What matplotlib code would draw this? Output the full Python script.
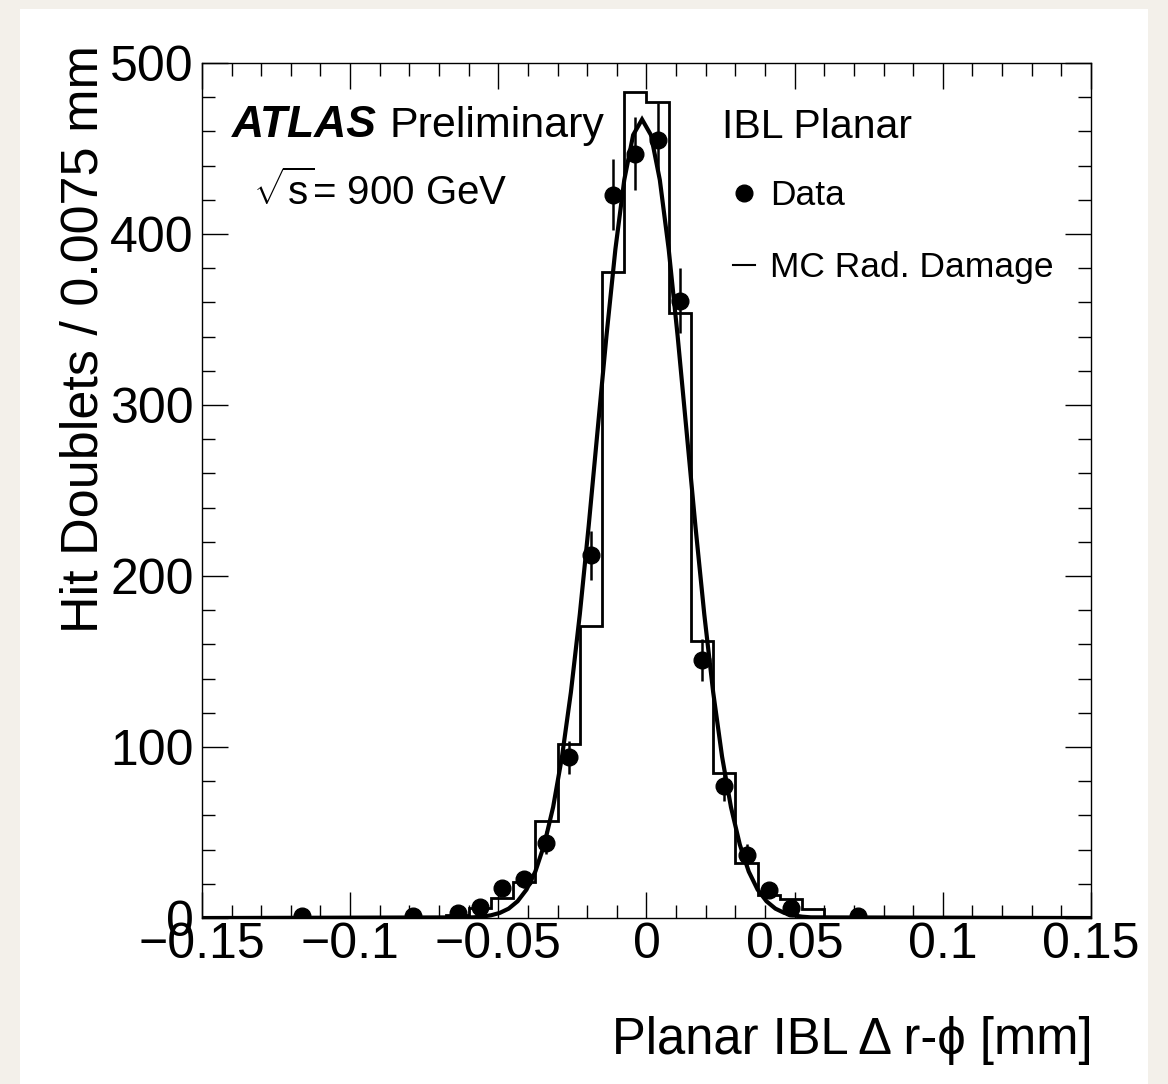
import numpy as np
import matplotlib
matplotlib.use('Agg')
import matplotlib.pyplot as plt
from matplotlib.lines import Line2D
from matplotlib.patches import Rectangle
from matplotlib.ticker import MultipleLocator, FuncFormatter

plt.rcParams['font.family'] = ['Liberation Sans', 'DejaVu Sans']
plt.rcParams['mathtext.fontset'] = 'custom'
plt.rcParams['mathtext.rm'] = 'Liberation Sans'

# data: hit doublets per 0.0075 mm bin (bin centres)
data_x = [-0.11625, -0.07875, -0.06375, -0.05625, -0.04875, -0.04125, -0.03375,
          -0.02625, -0.01875, -0.01125, -0.00375, 0.00375, 0.01125, 0.01875,
          0.02625, 0.03375, 0.04125, 0.04875, 0.07125]
data_y = [1, 1, 3, 6.6, 17.4, 22.6, 44, 94, 212, 423, 447, 455, 361, 151,
          77, 37, 16.4, 5.7, 1]

# MC rad. damage histogram
mc_lo, mc_hi = -0.0975, 0.0825
mc_counts = [0.5, 0.5, 0.5, 0.5, 1.7, 5.7, 11.5, 21, 57, 102, 171, 378,
             483, 477, 354, 162, 85, 32, 13.5, 11, 5.3, 0.5, 0.5, 0.5]

# fitted curve
fit_x = [-0.15, -0.0585, -0.0555, -0.0525, -0.0495, -0.0465, -0.0435, -0.0405,
         -0.0375, -0.0345, -0.0315, -0.0285, -0.0255, -0.0225, -0.0195, -0.0165,
         -0.0135, -0.0105, -0.0075, -0.0045, -0.0015, 0.0015, 0.0045, 0.0075,
         0.0105, 0.0135, 0.0165, 0.0195, 0.0225, 0.0255, 0.0285, 0.0315, 0.0345,
         0.0375, 0.0405, 0.0435, 0.0465, 0.0495, 0.0525, 0.0555, 0.15]
fit_y = [0, 0.4, 0.8, 1.6, 3.0, 5.5, 9.8, 16.6, 27.2, 42.9, 64.9, 94.4, 132.1,
         177.6, 229.4, 285.1, 340.5, 391.0, 431.6, 457.9, 467, 457.9, 431.6,
         391.0, 340.5, 285.1, 229.4, 177.6, 132.1, 94.4, 64.9, 42.9, 27.2, 16.6,
         9.8, 5.5, 3.0, 1.6, 0.8, 0.4, 0]

mc_edges = np.linspace(mc_lo, mc_hi, len(mc_counts) + 1)

fig = plt.figure(figsize=(11.68, 10.84), dpi=100, facecolor='#f3f0ea')
fig.patches.append(Rectangle((20 / 1168, 0), 1128 / 1168, 1075 / 1084,
                             transform=fig.transFigure, facecolor='white',
                             edgecolor='none', zorder=-1))
ax = fig.add_axes([0.1729, 0.1531, 0.7612, 0.7888])

ax.stairs(mc_counts, mc_edges, color='black', lw=2.0)
ax.plot(fit_x, fit_y, color='black', lw=3.0, solid_joinstyle='miter')
ax.errorbar(data_x, data_y, yerr=np.sqrt(data_y), fmt='o', color='black',
            ms=12, elinewidth=1.8, capsize=0)

ax.set_xlim(-0.15, 0.15)
ax.set_ylim(0, 500)


def fmt(v, pos):
    if abs(v) < 1e-9:
        return '0'
    return ('%g' % v).replace('-', '\u2212')


ax.xaxis.set_major_locator(MultipleLocator(0.05))
ax.xaxis.set_minor_locator(MultipleLocator(0.01))
ax.yaxis.set_major_locator(MultipleLocator(100))
ax.yaxis.set_minor_locator(MultipleLocator(20))
ax.xaxis.set_major_formatter(FuncFormatter(fmt))
ax.tick_params(which='both', direction='in', top=True, right=True, width=1.0)
ax.tick_params(which='major', length=19)
ax.tick_params(which='minor', length=9.5)
ax.tick_params(axis='x', labelsize=36, pad=3)
ax.tick_params(axis='y', labelsize=36, pad=6)
for s in ax.spines.values():
    s.set_linewidth(1.0)

ax.set_ylabel('Hit Doublets / 0.0075 mm', fontsize=37.5, loc='top')
ax.yaxis.set_label_coords(-0.105, 1.021)
ax.set_xlabel('Planar IBL \u0394 r-\u03d5 [mm]', fontsize=36.5, loc='right')
ax.xaxis.set_label_coords(1.002, -0.1146)

ax.text(0.0337, 0.9135, 'ATLAS', fontsize=32, fontweight='bold', style='italic',
        transform=ax.transAxes, va='baseline')
ax.text(0.2115, 0.9135, 'Preliminary', fontsize=31, transform=ax.transAxes,
        va='baseline')
ax.text(0.0574, 0.834, r'$\sqrt{\mathrm{s}}$= 900 GeV', fontsize=29,
        transform=ax.transAxes, va='baseline')
ax.text(0.585, 0.9123, 'IBL Planar', fontsize=29.5, transform=ax.transAxes,
        va='baseline')

handles = [Line2D([], [], marker='o', ls='none', color='black', ms=12),
           Line2D([], [], color='black', lw=1.5)]
ax.legend(handles, ['Data', 'MC Rad. Damage'], loc='upper left',
          bbox_to_anchor=(0.5975, 0.8643), frameon=False, fontsize=25.5,
          handlelength=0.62, handletextpad=0.42, labelspacing=1.1,
          borderpad=0, borderaxespad=0)

fig.savefig('out.png', dpi=100, facecolor=fig.get_facecolor())
